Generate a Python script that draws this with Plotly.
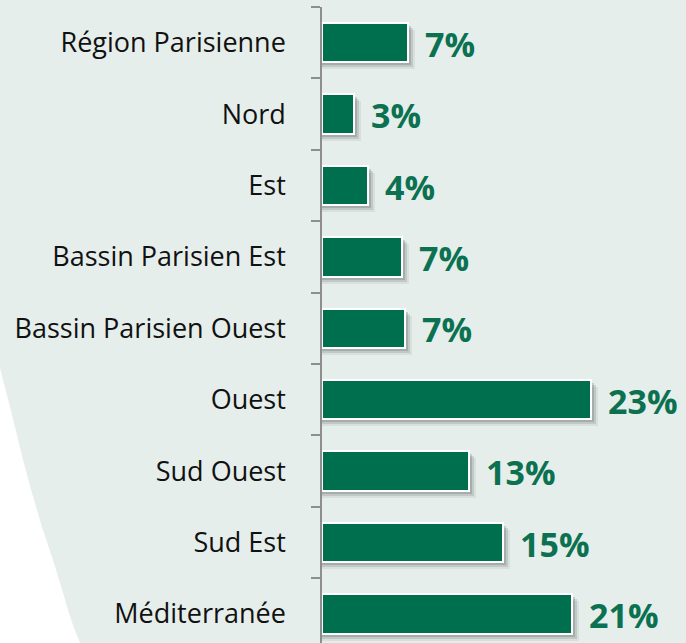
import plotly.graph_objects as go

categories = ["Région Parisienne", "Nord", "Est", "Bassin Parisien Est",
              "Bassin Parisien Ouest", "Ouest", "Sud Ouest", "Sud Est", "Méditerranée"]
values = [7.3, 2.7, 3.9, 6.8, 7.1, 22.9, 12.5, 15.4, 21.3]
labels = ["7%", "3%", "4%", "7%", "7%", "23%", "13%", "15%", "21%"]

W, H = 686, 643
ML, MR, MT, MB = 322, 0, 7, 0
PW, PH = W - ML - MR, H - MT - MB
PX_PER_UNIT = 11.75
CAT_PX = 71.4
BAR_W = 0.55

GREEN = "#006F4D"
BG = "#E5EEEB"

fig = go.Figure()

# soft shadow layers
for dx, dy, col in [(7, 7, "rgba(0,0,0,0.06)"), (5, 5, "rgba(0,0,0,0.10)"), (3, 3, "rgba(0,0,0,0.14)")]:
    fig.add_trace(go.Bar(
        y=categories, x=[v + dx / PX_PER_UNIT for v in values], orientation="h",
        width=BAR_W, offset=-BAR_W / 2 + dy / CAT_PX,
        marker=dict(color=col, line=dict(width=0)),
        hoverinfo="skip", showlegend=False))

fig.add_trace(go.Bar(
    y=categories, x=values, orientation="h", width=BAR_W,
    marker=dict(color=GREEN, line=dict(color="white", width=2)),
    showlegend=False))

for c, v, t in zip(categories, values, labels):
    fig.add_annotation(x=v, y=c, text=t, showarrow=False, xanchor="left",
                       xshift=15, yshift=-1,
                       font=dict(family="Open Sans", size=34, color="#0B7151", weight="bold"))

# background white swoosh (decoration)
pts = [(-10, 330), (0, 368), (3, 380), (9, 403), (15, 427), (23, 460), (32, 493),
       (42, 527), (53, 560), (61, 586), (68, 610), (74, 628), (80, 643), (84, 660), (-10, 660)]
def px2paper(p):
    return ((p[0] - ML) / PW, (H - MB - p[1]) / PH)
pp = [px2paper(p) for p in pts]
path = "M " + " L ".join(f"{x:.4f},{y:.4f}" for x, y in pp) + " Z"
fig.add_shape(type="path", path=path, xref="paper", yref="paper",
              fillcolor="white", line=dict(width=0), layer="below")

n_vis = PH / CAT_PX
fig.update_layout(
    width=W, height=H, margin=dict(l=ML, r=MR, t=MT, b=MB, pad=0),
    paper_bgcolor=BG, plot_bgcolor="rgba(0,0,0,0)",
    barmode="overlay", bargap=0,
    xaxis=dict(range=[0, PW / PX_PER_UNIT], visible=False, fixedrange=True),
    yaxis=dict(type="category", categoryorder="array", categoryarray=categories,
               range=[-0.5 + n_vis, -0.5], tickson="boundaries",
               ticks="outside", ticklen=9, tickwidth=1.5, tickcolor="#8E8E8E",
               showline=True, linecolor="#8E8E8E", linewidth=1.5,
               showgrid=False, zeroline=False, ticklabelstandoff=29,
               fixedrange=True,
               tickfont=dict(family="Open Sans", size=27, color="#111111")),
    font=dict(family="Open Sans"),
)

fig.write_html("out.html", config={"displayModeBar": False},
               post_script="document.body.style.margin='0px';document.body.style.overflow='hidden';")
